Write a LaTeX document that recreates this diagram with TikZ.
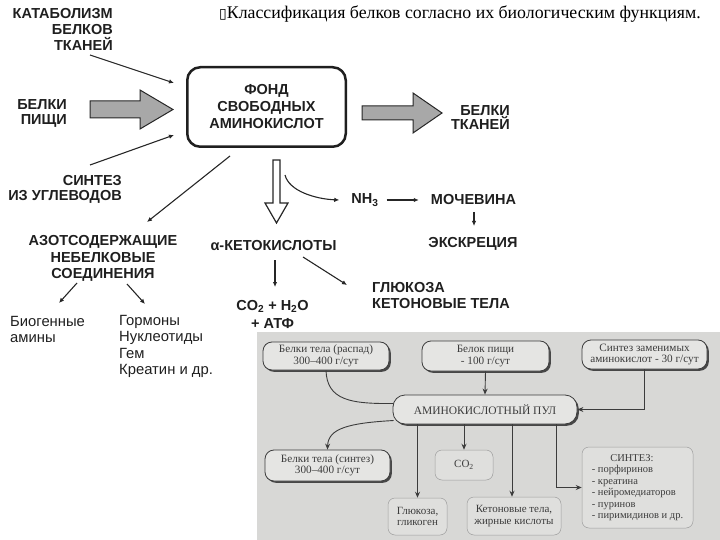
\documentclass[tikz,border=0pt]{standalone}
\usepackage{fontspec}
\setmainfont{Liberation Serif}
\newfontfamily\sansf{Liberation Sans}
\newfontfamily\dejavu{DejaVu Sans}
\usetikzlibrary{arrows.meta,calc,shadows}
\definecolor{bgphoto}{RGB}{216,216,214}
\definecolor{boxfill}{RGB}{229,229,227}
\definecolor{ink}{RGB}{60,60,60}
\definecolor{arrowgray}{RGB}{168,168,168}
\begin{document}
\begin{tikzpicture}[x=1pt,y=-1pt,
  hlab/.style={font=\sansf\bfseries\fontsize{14.5}{16}\selectfont, inner sep=0pt, text=black!88},
  rlab/.style={font=\sansf\fontsize{14.8}{16}\selectfont, inner sep=0pt, text=black!88, align=left},
  thinarr/.style={-{Latex[length=5pt,width=4.5pt]}, line width=1.1pt, draw=black!85},
  bigarr/.style={draw=black!85, line width=1pt, fill=arrowgray},
  hollowarr/.style={draw=black!85, line width=1.2pt, fill=white},
  pbox/.style={rounded corners=9pt, draw=ink, line width=0.8pt, fill=boxfill, text=ink,
    font=\fontsize{11.2}{11.5}\selectfont, align=center, inner sep=0pt,
    drop shadow={shadow xshift=1.8pt, shadow yshift=-1.8pt, fill=black!72, opacity=1}},
  tbox/.style={rounded corners=7pt, draw=black!38, line width=0.5pt, fill=boxfill!55!bgphoto, text=ink,
    font=\fontsize{11}{11.5}\selectfont, align=center, inner sep=0pt},
  arrb/.style={-{Stealth[length=6pt,width=5pt]}, draw=ink, line width=0.9pt},
  lineb/.style={draw=ink, line width=0.9pt}
]
\useasboundingbox (0,0) rectangle (720,540);

% title
\node[anchor=west, inner sep=0pt, font=\fontsize{17.8}{19}\selectfont] (title) at (219,14)
  {{\dejavu\fontsize{14}{14}\selectfont ▯}Классификация белков согласно их биологическим функциям.};

% ---------- upper scheme ----------
\node[hlab, anchor=east, align=right] (kat) at (113,29) {КАТАБОЛИЗМ\\БЕЛКОВ\\ТКАНЕЙ};
\node[hlab, anchor=east, align=right, font=\sansf\bfseries\fontsize{14.5}{15}\selectfont] (pish) at (67,113.5) {БЕЛКИ\\ПИЩИ};
\node[hlab, anchor=east, align=right, font=\sansf\bfseries\fontsize{14.5}{15}\selectfont] (sint) at (122,189.5) {СИНТЕЗ\\ИЗ УГЛЕВОДОВ};
\node[hlab, align=center, font=\sansf\bfseries\fontsize{14.5}{17}\selectfont,
      draw=black!88, line width=2.5pt, rounded corners=13pt,
      minimum width=158.5pt, minimum height=79.5pt] (fond) at (266.5,107) {ФОНД\\СВОБОДНЫХ\\АМИНОКИСЛОТ};
\node[hlab, anchor=east, align=right, font=\sansf\bfseries\fontsize{14.5}{14}\selectfont] (tkan) at (510,118) {БЕЛКИ\\ТКАНЕЙ};
\node[hlab, align=center, font=\sansf\bfseries\fontsize{14.5}{16.5}\selectfont] (azot) at (103,258.5) {АЗОТСОДЕРЖАЩИЕ\\НЕБЕЛКОВЫЕ\\СОЕДИНЕНИЯ};
\node[hlab] (keto) at (273.5,246) {α-КЕТОКИСЛОТЫ};
\node[hlab] (nh3) at (365,200) {NH\textsubscript{3}};
\node[hlab] (moch) at (473.5,200) {МОЧЕВИНА};
\node[hlab] (ekskr) at (473,244) {ЭКСКРЕЦИЯ};
\node[hlab, align=center, font=\sansf\bfseries\fontsize{14.5}{18}\selectfont] (co2) at (272.5,314) {CO\textsubscript{2} + H\textsubscript{2}O\\+ АТФ};
\node[hlab, anchor=west, align=left] (glu) at (372,296) {ГЛЮКОЗА\\КЕТОНОВЫЕ ТЕЛА};
\node[rlab, anchor=west] (biog) at (10,329.5) {Биогенные\\амины};
\node[rlab, anchor=west, font=\sansf\fontsize{14.8}{16.5}\selectfont] (gorm) at (119,346.5) {Гормоны\\Нуклеотиды\\Гем\\Креатин и др.};

% thin arrows into the pool
\draw[thinarr] ([shift={(-23,26)}]kat.east) -- ([shift={(-12,-24)}]fond.west);
\draw[thinarr] ([shift={(-32,-24.5)}]sint.east) -- ([shift={(-12,28)}]fond.west);
% big grey arrows
\draw[bigarr] ([shift={(23,-12.5)}]pish.east) -- ++(50,0) -- ++(0,-11) -- ++(33,19.5)
   -- ++(-33,19.5) -- ++(0,-11) -- ++(-50,0) -- cycle;
\draw[bigarr] ([shift={(15,-1)}]fond.east) -- ++(51,0) -- ++(0,-13) -- ++(29,20)
   -- ++(-29,20) -- ++(0,-13) -- ++(-51,0) -- cycle;
% hollow arrow down
\draw[hollowarr] ([shift={(6.5,12)}]fond.south) -- ++(7,0) -- ++(0,43) -- ++(8,0) -- ++(-11.5,20)
   -- ++(-11.5,-20) -- ++(8,0) -- cycle;
% other arrows
\draw[thinarr] ([shift={(-36.5,8)}]fond.south) -- ([shift={(44,-36.5)}]azot.center);
\draw[thinarr] ([shift={(18.5,27)}]fond.south) .. controls +(4,16) and +(-24,-1) .. ([shift={(-12,0)}]nh3.west);
\draw[thinarr] ([shift={(8,0)}]nh3.east) -- ([shift={(-12,0)}]moch.west);
\draw[thinarr] ([shift={(0.5,12)}]moch.center) -- ([shift={(1,-18)}]ekskr.center);
\draw[thinarr] ([shift={(1.5,14)}]keto.center) -- ([shift={(2.5,-27)}]co2.center);
\draw[thinarr] ([shift={(29.5,11)}]keto.center) -- ([shift={(-25,-11)}]glu.west);
\draw[thinarr] ([shift={(-26,24.5)}]azot.center) -- ([shift={(49,-26.5)}]biog.west);
\draw[thinarr] ([shift={(24,25.5)}]azot.center) -- ([shift={(26,-42.5)}]gorm.west);

% ---------- lower (photo) scheme ----------
\fill[bgphoto] (257,332) rectangle (720,540);
\node[pbox, minimum width=126pt, minimum height=28pt] (b1) at (326,356) {Белки тела (распад)\\300–400 г/сут};
\node[pbox, minimum width=127pt, minimum height=30pt] (b2) at (485.5,356) {Белок пищи\\- 100 г/сут};
\node[pbox, minimum width=125pt, minimum height=29pt] (b3) at (644.5,354.5) {Синтез заменимых\\аминокислот - 30 г/сут};
\node[pbox, rounded corners=12pt, minimum width=184pt, minimum height=29pt, font=\fontsize{11.5}{12}\selectfont] (pool) at (485,409.5) {АМИНОКИСЛОТНЫЙ ПУЛ};
\node[pbox, minimum width=125pt, minimum height=31pt] (b4) at (327.5,465.5) {Белки тела (синтез)\\300–400 г/сут};
\node[tbox, minimum width=58pt, minimum height=30pt] (co2b) at (464,465) {CO\textsubscript{2}};
\node[tbox, minimum width=59pt, minimum height=37pt] (glu2) at (417.5,516.5) {Глюкоза,\\гликоген};
\node[tbox, minimum width=94pt, minimum height=38pt] (keton) at (514,516) {Кетоновые тела,\\жирные кислоты};
\node[tbox, align=left, minimum width=111pt, minimum height=81pt, font=\fontsize{10.5}{11.5}\selectfont] (synth) at (637.5,487.5)
  {\hspace*{18.5pt}СИНТЕЗ:\\- порфиринов\\- креатина\\- нейромедиаторов\\- пуринов\\- пиримидинов и др.};

\draw[lineb] (b1.south) .. controls (327,400) and (350,404) .. ([shift={(1,-6)}]pool.west);
\draw[arrb] (b2.south) -- (pool.north);
\draw[arrb] (b3.south) |- (pool.east);
\draw[arrb] ([shift={(1,11)}]pool.west) .. controls (350,423) and (328,428) .. (b4.north);
\draw[arrb] (glu2.north |- pool.south) -- (glu2.north);
\draw[arrb] (co2b.north |- pool.south) -- (co2b.north);
\draw[arrb] ([shift={(-2,0)}]keton.north |- pool.south) -- ([shift={(-2,0)}]keton.north);
\draw[arrb] ([shift={(-21,0)}]pool.south east) |- (synth.west);
\end{tikzpicture}
\end{document}
